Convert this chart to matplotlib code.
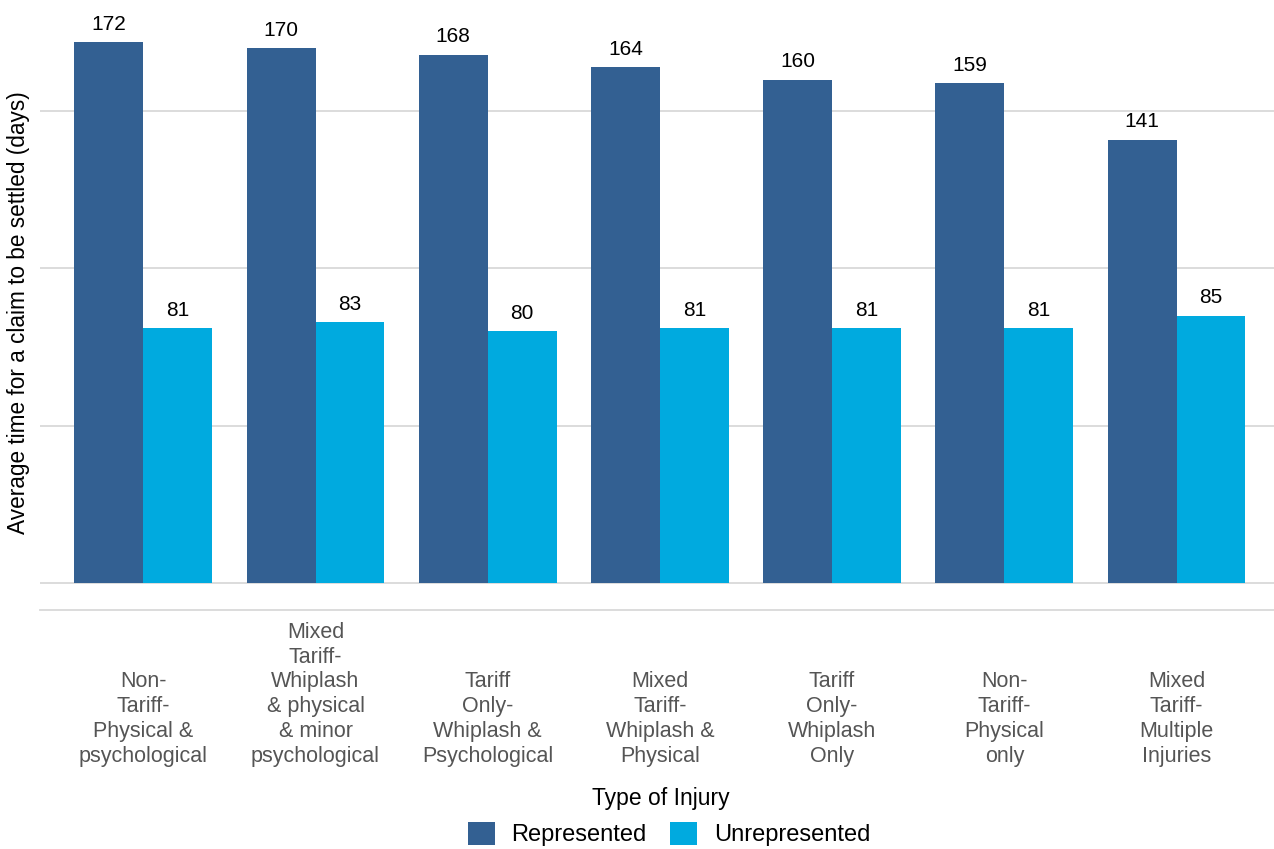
import matplotlib.pyplot as plt
from matplotlib.patches import Patch
import numpy as np

plt.rcParams["font.family"] = ["Liberation Sans", "DejaVu Sans"]

# data
injury_types = [
    "Non-\nTariff-\nPhysical &\npsychological",
    "Mixed\nTariff-\nWhiplash\n& physical\n& minor\npsychological",
    "Tariff\nOnly-\nWhiplash &\nPsychological",
    "Mixed\nTariff-\nWhiplash &\nPhysical",
    "Tariff\nOnly-\nWhiplash\nOnly",
    "Non-\nTariff-\nPhysical\nonly",
    "Mixed\nTariff-\nMultiple\nInjuries",
]
represented = [172, 170, 168, 164, 160, 159, 141]
unrepresented = [81, 83, 80, 81, 81, 81, 85]
series_names = ["Represented", "Unrepresented"]
colors = ["#336092", "#00AADF"]

fig = plt.figure(figsize=(12.74, 8.49), dpi=100)
ax = fig.add_axes([40 / 1274, 239 / 849, 1 - 40 / 1274, 595 / 849])

x = np.arange(1, len(injury_types) + 1)
w = 0.4
b1 = ax.bar(x - w / 2, represented, width=w, color=colors[0], zorder=3)
b2 = ax.bar(x + w / 2, unrepresented, width=w, color=colors[1], zorder=3)
ax.bar_label(b1, padding=6, fontsize=15, color="black")
ax.bar_label(b2, padding=6, fontsize=15, color="black")

ax.set_xlim(0.4, 0.4 + (1274 - 40) / 172.2)
ax.set_ylim(-8.6, 180.6)

# gridlines
for g in [0, 50, 100, 150]:
    ax.axhline(g, color="#d9d9d9", lw=1.3, zorder=1)
for s in ["top", "right", "left"]:
    ax.spines[s].set_visible(False)
ax.spines["bottom"].set_color("#d9d9d9")
ax.spines["bottom"].set_linewidth(1.3)

ax.set_yticks([])
ax.set_xticks(x)
ax.set_xticklabels(injury_types, fontsize=15.5, color="#555555", linespacing=1.24)
ax.tick_params(axis="x", length=0, pad=113)
for lbl in ax.get_xticklabels():
    lbl.set_verticalalignment("bottom")
    lbl.set_horizontalalignment("center")

ax.set_ylabel("Average time for a claim to be settled (days)", fontsize=16.3, color="black")
ax.yaxis.set_label_coords(-10 / 1234, 0.5)
fig.text(661, 849 - 798, "Type of Injury", fontsize=16.5, ha="center", va="center",
         transform=None)

handles = [Patch(facecolor=c, edgecolor="none") for c in colors]
fig.legend(handles, series_names, loc="center", bbox_to_anchor=(669 / 1274, 15 / 849),
           ncol=2, frameon=False, fontsize=17, handlelength=1.15, handleheight=1.15,
           columnspacing=1.0, handletextpad=0.7)

fig.savefig("out.png", dpi=100)
